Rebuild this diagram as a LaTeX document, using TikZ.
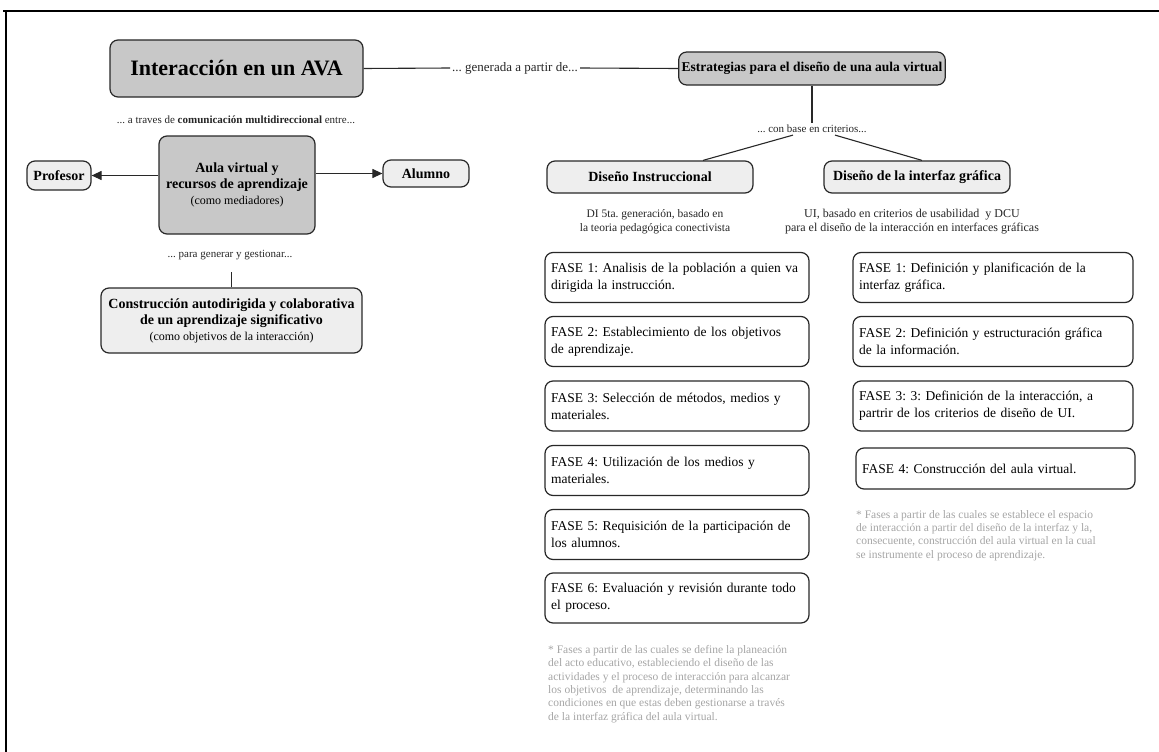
\documentclass[tikz,border=0pt]{standalone}
\usepackage{fontspec}
\setmainfont{Liberation Serif}
\frenchspacing
\usetikzlibrary{positioning, arrows.meta}
\definecolor{boxgray}{RGB}{200,200,200}
\definecolor{boxlight}{RGB}{238,238,238}
\definecolor{linegray}{RGB}{40,40,40}
\definecolor{notegray}{RGB}{165,165,165}
\newcommand{\setfs}[2]{\fontsize{#1}{#2}\selectfont}
\tikzset{
  mainbox/.style={draw=linegray, fill=boxgray, line width=1.2pt, rounded corners=8pt, align=center, inner sep=3pt},
  subbox/.style={mainbox, fill=boxlight},
  fasebox/.style={draw=linegray, fill=white, line width=1.2pt, rounded corners=8pt, align=left, text width=#1, minimum height=50pt, inner sep=6pt, font=\setfs{13.5}{17}},
  linklabel/.style={font=\setfs{11}{13}, text=black!85, inner sep=2pt},
  notetext/.style={text=notegray, align=left, font=\setfs{11.5}{13.4}, inner sep=0pt},
  conn/.style={draw=linegray, line width=1.1pt},
}
\begin{document}
\begin{tikzpicture}[x=1pt, y=-1pt]
    \useasboundingbox (0,0) rectangle (1159,752);
    % Frame
    \draw[line width=1.5pt] (3,11) -- (1159,11);
    \draw[line width=1.5pt] (6,11) -- (6,752);

    % Top row
    \node[mainbox, minimum width=253pt, minimum height=57pt, font=\setfs{22}{24}\bfseries] (ava) at (236.5,68.5) {Interacción en un AVA};
    \node[mainbox, minimum width=262pt, minimum height=33pt, font=\setfs{13.5}{16}\bfseries] (estr) at (812,68.5) {Estrategias para el diseño de una aula virtual};
    \node[linklabel, font=\setfs{13}{14}] (gen) at (515,68) {... generada a partir de...};
    \draw[conn] (ava.east) -- (gen.west);
    \draw[conn] (gen.east) -- (estr.west);

    % Left branch
    \node[linklabel] (via) at (236,120) {... a traves de \textbf{comunicación multidireccional} entre...};
    \node[mainbox, minimum width=156pt, minimum height=98pt, font=\setfs{14}{16}\bfseries] (aula) at (237,185) {Aula virtual y\\recursos de aprendizaje\\{\setfs{12}{15}\mdseries (como mediadores)}};
    \node[subbox, minimum width=64pt, minimum height=29pt, font=\setfs{14}{16}\bfseries] (prof) at (59,175.5) {Profesor};
    \node[subbox, minimum width=86pt, minimum height=27pt, font=\setfs{14}{16}\bfseries] (alum) at (426,173.5) {Alumno};
    \draw[conn, -{Triangle[length=10pt,width=9pt]}] (aula.west |- prof.east) -- (prof.east);
    \draw[conn, -{Triangle[length=10pt,width=9pt]}] (aula.east |- alum.west) -- (alum.west);

    \node[linklabel] (para) at (230,255) {... para generar y gestionar...};
    \node[subbox, minimum width=261pt, minimum height=65pt, font=\setfs{14}{16}\bfseries] (constr) at (231.5,320.5) {Construcción autodirigida y colaborativa\\de un aprendizaje significativo\\{\setfs{12}{14}\mdseries (como objetivos de la interacción)}};
    \draw[conn, shorten >=10pt] (constr.north) -- (constr.north |- para.south);

    % Right branch
    \node[linklabel] (crit) at (812,129) {... con base en criterios...};
    \draw[conn] (estr.south) -- (crit.north);
    \node[subbox, minimum width=206pt, minimum height=32pt, font=\setfs{14}{16}\bfseries] (di) at (650,177) {Diseño Instruccional};
    \node[subbox, minimum width=186pt, minimum height=32pt, font=\setfs{14}{16}\bfseries] (dig) at (917,177) {Diseño de la interfaz gráfica};
    \draw[conn] ([xshift=-19pt]crit.south) -- ([xshift=53pt]di.north);
    \draw[conn] ([xshift=23pt]crit.south) -- ([xshift=5pt]dig.north);

    \node[linklabel, align=center, font=\setfs{11.5}{14}] (dinote) at (655,222) {DI 5ta. generación, basado en\\la teoria pedagógica conectivista};
    \node[linklabel, align=center, font=\setfs{12}{14}] (uinote) at (912,222) {UI, basado en criterios de usabilidad\ \ y DCU\\para el diseño de la interacción en interfaces gráficas};

    % Phases, instructional design
    \foreach \y/\txt [count=\i] in {277.5/{FASE 1: Analisis de la población a quien va\\dirigida la instrucción.},
        341.5/{FASE 2: Establecimiento de los objetivos\\de aprendizaje.},
        406/{FASE 3: Selección de métodos, medios y\\materiales.},
        470.5/{FASE 4: Utilización de los medios y\\materiales.},
        534.5/{FASE 5: Requisición de la participación de\\los alumnos.},
        598/{FASE 6: Evaluación y revisión durante todo\\el proceso.}}
        \node[fasebox=252pt] (di\i) at (677,\y) {\txt};

    % Phases, interface design
    \node[fasebox=268pt] (ui1) at (993,277.5) {FASE 1: Definición y planificación de la\\interfaz gráfica.};
    \node[fasebox=268pt] (ui2) at (993,341.5) {FASE 2: Definición y estructuración gráfica\\de la información.};
    \node[fasebox=268pt] (ui3) at (993,406) {FASE 3: 3: Definición de la interacción, a\\partrir de los criterios de diseño de UI.};
    \node[fasebox=267pt, minimum height=41pt] (ui4) at (995.5,468.5) {FASE 4: Construcción del aula virtual.};

    % Notes
    \node[notetext, anchor=north west] (dinotes) at (548,645) {* Fases a partir de las cuales se define la planeación\\del acto educativo, estableciendo el diseño de las\\actividades y el proceso de interacción para alcanzar\\los objetivos\ \ de aprendizaje, determinando las\\condiciones en que estas deben gestionarse a través\\de la interfaz gráfica del aula virtual.};
    \node[notetext, anchor=north west] (uinotes) at (856,510) {* Fases a partir de las cuales se establece el espacio\\de interacción a partir del diseño de la interfaz y la,\\consecuente, construcción del aula virtual en la cual\\se instrumente el proceso de aprendizaje.};
\end{tikzpicture}
\end{document}
